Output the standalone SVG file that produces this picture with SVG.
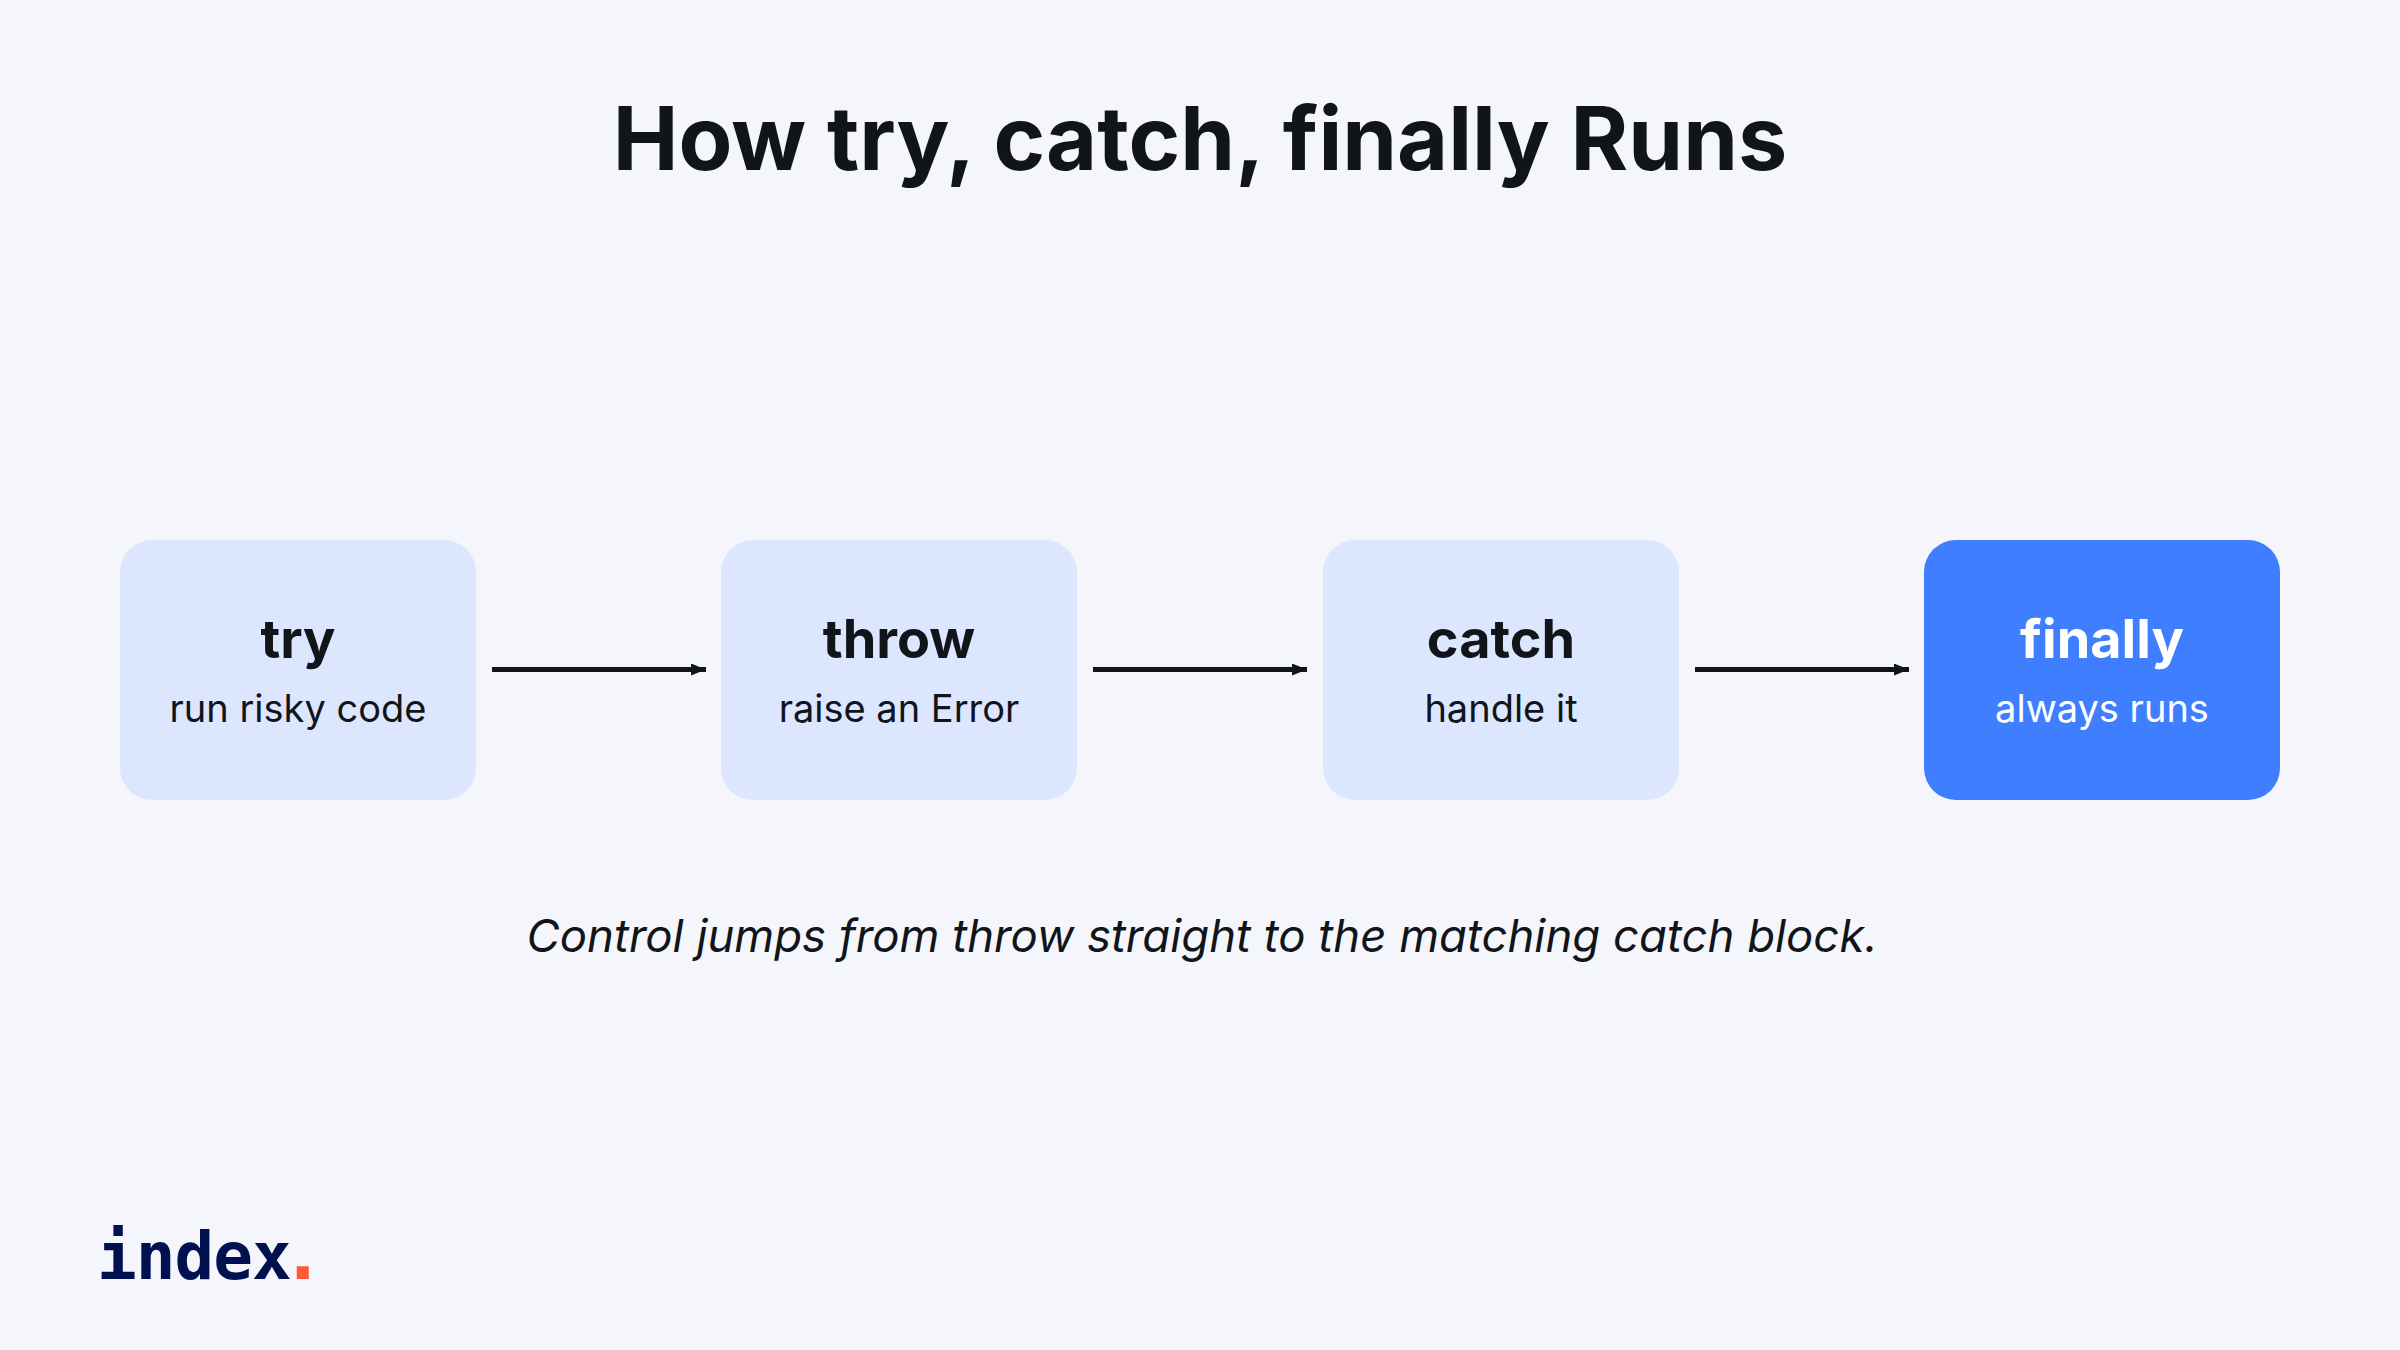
<svg xmlns="http://www.w3.org/2000/svg" width="2400" height="1350" viewBox="0 0 2400 1350">
<defs><marker id="a" markerWidth="15" markerHeight="12" refX="15" refY="6" orient="auto" markerUnits="userSpaceOnUse"><path d="M0 0L15 6L0 12Z" fill="#11151a"/></marker></defs>
<style>
.t{font-family:"Inter","Liberation Sans",sans-serif;font-weight:700;font-size:54px;text-anchor:middle;fill:#11151a}
.s{font-family:"Inter","Liberation Sans",sans-serif;font-size:38px;text-anchor:middle;fill:#11151a}
.box{fill:#dce6ff}
.c{stroke:#11151a;stroke-width:5;fill:none;marker-end:url(#a)}
</style>
<rect width="2400" height="1350" fill="#f4f6fb"/>
<text x="1200" y="170" font-family="Inter,'Liberation Sans',sans-serif" font-weight="700" font-size="88" text-anchor="middle" fill="#11151a">How try, catch, finally Runs</text>
<g id="connectors"><path class="c" d="M492 669.500H706"/><path class="c" d="M1093 669.500H1307"/><path class="c" d="M1695 669.500H1909"/></g>
<g id="try"><rect class="box" x="120" y="540" width="356" height="260" rx="32"/><text class="t" x="298" y="658">try</text><text class="s" x="298" y="722">run risky code</text></g>
<g id="throw"><rect class="box" x="721" y="540" width="356" height="260" rx="32"/><text class="t" x="899" y="658">throw</text><text class="s" x="899" y="722">raise an Error</text></g>
<g id="catch"><rect class="box" x="1323" y="540" width="356" height="260" rx="32"/><text class="t" x="1501" y="658">catch</text><text class="s" x="1501" y="722">handle it</text></g>
<g id="finally"><rect x="1924" y="540" width="356" height="260" rx="32" fill="#3e7eff"/><text class="t" x="2102" y="658" style="fill:#fff">finally</text><text class="s" x="2102" y="722" style="fill:#fff">always runs</text></g>
<text x="1202" y="952" font-family="Inter,'Liberation Sans',sans-serif" font-style="italic" font-size="45.500" text-anchor="middle" fill="#11151a">Control jumps from throw straight to the matching catch block.</text>
<g id="logo"><text x="97" y="1279" font-family="'DejaVu Sans Mono','Liberation Mono',monospace" font-weight="700" font-size="66" letter-spacing="-1" fill="#00114f">index</text><text x="291" y="1279" font-family="'Liberation Sans',sans-serif" font-weight="700" font-size="85" fill="#ff5a36">.</text></g>
</svg>
